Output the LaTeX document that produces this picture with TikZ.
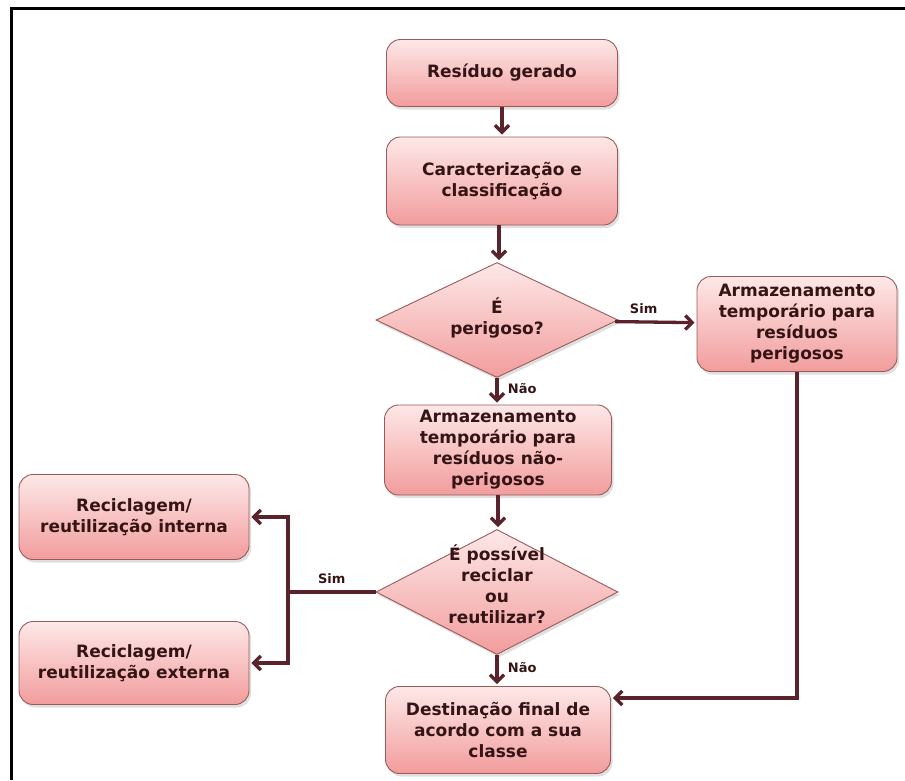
\documentclass[tikz,border=0pt]{standalone}
\usepackage{fontspec}
\setmainfont{DejaVu Sans}
\usetikzlibrary{shapes.geometric,arrows.meta,shadows}
\definecolor{boxtop}{HTML}{FDE8E8}
\definecolor{boxbot}{HTML}{F29C9C}
\definecolor{boxline}{HTML}{9A5A5A}
\definecolor{flowcol}{HTML}{5A222A}
\definecolor{txtcol}{HTML}{341414}
\begin{document}
\begin{tikzpicture}[x=1pt,y=-1pt,
  box/.style={rectangle,rounded corners=14pt,draw=boxline,line width=0.9pt,
    top color=boxtop,bottom color=boxbot,inner sep=0pt,align=center,text=txtcol,
    font=\fontsize{17}{21}\selectfont\bfseries,
    drop shadow={opacity=0.25,shadow xshift=2pt,shadow yshift=-3pt}},
  dec/.style={diamond,draw=boxline,line width=0.9pt,top color=boxtop,bottom color=boxbot,
    inner sep=0pt,drop shadow={opacity=0.25,shadow xshift=2pt,shadow yshift=-3pt}},
  dectxt/.style={align=center,text=txtcol,font=\fontsize{17}{21}\selectfont\bfseries},
  lbl/.style={text=txtcol,font=\fontsize{13}{15}\selectfont\bfseries},
  flow/.style={draw=flowcol,line width=3.3pt,shorten >=2pt,-{Straight Barb[length=7pt,width=14pt]}},
  wire/.style={draw=flowcol,line width=3.3pt}]
  \useasboundingbox (0,0) rectangle (905,780);
  \draw[line width=3pt] (11,780) -- (11,8) -- (905,8);

  \node[box,minimum width=231pt,minimum height=67pt] (res) at (502,73) {Resíduo gerado};
  \node[box,minimum width=231pt,minimum height=88pt] (carac) at (502,181) {Caracterização e\\classificação};
  \node[dec,minimum width=242pt,minimum height=115pt] (perig) at (497,320) {};
  \node[dectxt] (perigtxt) at (497,318) {É\\perigoso?};
  \node[box,minimum width=200pt,minimum height=95pt] (armper) at (797,324) {Armazenamento\\temporário para\\resíduos\\perigosos};
  \node[box,minimum width=227pt,minimum height=90pt] (armnp) at (498,450) {Armazenamento\\temporário para\\resíduos não-\\perigosos};
  \node[dec,minimum width=242pt,minimum height=125pt] (recic) at (497,592) {};
  \node[dectxt] (recictxt) at (497,584) {É possível\\reciclar\\ou\\reutilizar?};
  \node[box,minimum width=230pt,minimum height=85pt] (interna) at (134,517) {Reciclagem/\\reutilização interna};
  \node[box,minimum width=230pt,minimum height=83pt] (externa) at (134,663) {Reciclagem/\\reutilização externa};
  \node[box,minimum width=225pt,minimum height=87pt] (dest) at (498,730) {Destinação final de\\acordo com a sua\\classe};

  \coordinate (split) at (288,592);
  \coordinate (down) at (797,698);

  \draw[flow] (res) -- (res |- carac.north);
  \draw[flow] (carac.south -| 499,0) -- (perig.north -| 499,0);
  \draw[flow] (perig) -- node[lbl,above=3pt,pos=0.35] {Sim} (armper);
  \draw[flow] (perig) -- node[lbl,right=6pt,pos=0.4] {Não} (perig |- armnp.north);
  \draw[flow] (armnp) -- (armnp |- recic.north);
  \draw[flow] (recic) -- node[lbl,right=6pt,pos=0.4] {Não} (recic |- dest.north);
  \draw[flow] (armper) -- (down) -- (dest.east |- down);
  \draw[wire] (recic) -- node[lbl,above=3pt,pos=0.5] {Sim} (split);
  \draw[flow] (split) |- (interna.east);
  \draw[flow] (split) |- (externa.east);
\end{tikzpicture}
\end{document}
